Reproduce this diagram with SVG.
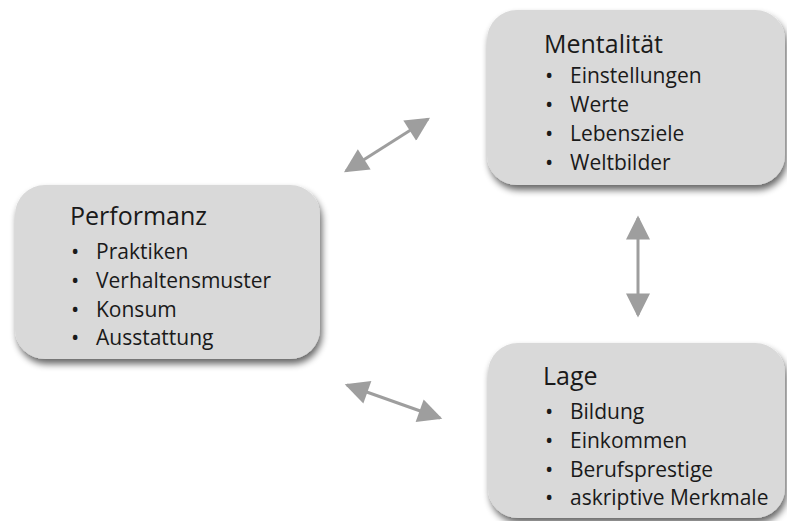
<svg xmlns="http://www.w3.org/2000/svg" width="787" height="521" viewBox="0 0 787 521">
  <defs>
    <filter id="shadow" x="-10%" y="-10%" width="125%" height="130%">
      <feGaussianBlur in="SourceAlpha" stdDeviation="3.5"/>
      <feOffset dx="2" dy="5" result="b"/>
      <feComponentTransfer><feFuncA type="linear" slope="0.6"/></feComponentTransfer>
      <feMerge><feMergeNode/><feMergeNode in="SourceGraphic"/></feMerge>
    </filter>
    <marker id="head" viewBox="0 0 10 10" refX="9" refY="5" markerWidth="8.5" markerHeight="8" markerUnits="strokeWidth" orient="auto-start-reverse">
      <path d="M0,0 L10,5 L0,10 Z" fill="#9e9e9e"/>
    </marker>
  </defs>
  <style>
    .box { fill: #d9d9d9; filter: url(#shadow); }
    .title { font-family: "Open Sans", "Liberation Sans", sans-serif; font-size: 25px; fill: #1a1a1a; }
    .item { font-family: "Open Sans", "Liberation Sans", sans-serif; font-size: 21px; fill: #1a1a1a; }
    .dot { font-family: "Open Sans", "Liberation Sans", sans-serif; font-size: 22px; fill: #1a1a1a; }
    .link { stroke: #9e9e9e; stroke-width: 3; fill: none; marker-start: url(#head); marker-end: url(#head); }
  </style>
  <rect width="787" height="521" fill="#ffffff"/>

  <g id="connectors">
    <line class="link" x1="346" y1="171" x2="428" y2="119"/>
    <line class="link" x1="347" y1="385" x2="440" y2="418"/>
    <line class="link" x1="638" y1="218" x2="638" y2="315"/>
  </g>

  <g id="performanz">
    <rect class="box" x="15" y="185" width="305" height="174" rx="30"/>
    <text class="title" x="70" y="225">Performanz</text>
    <text class="dot" x="71" y="259">•</text><text class="item" x="96" y="259">Praktiken</text>
    <text class="dot" x="71" y="288">•</text><text class="item" x="96" y="288">Verhaltensmuster</text>
    <text class="dot" x="71" y="317">•</text><text class="item" x="96" y="317">Konsum</text>
    <text class="dot" x="71" y="345">•</text><text class="item" x="96" y="345">Ausstattung</text>
  </g>

  <g id="mentalitaet">
    <rect class="box" x="487" y="10" width="298" height="175" rx="30"/>
    <text class="title" x="544" y="53">Mentalität</text>
    <text class="dot" x="545" y="83">•</text><text class="item" x="570" y="83">Einstellungen</text>
    <text class="dot" x="545" y="112">•</text><text class="item" x="570" y="112">Werte</text>
    <text class="dot" x="545" y="141">•</text><text class="item" x="570" y="141">Lebensziele</text>
    <text class="dot" x="545" y="170">•</text><text class="item" x="570" y="170">Weltbilder</text>
  </g>

  <g id="lage">
    <rect class="box" x="488" y="343" width="297" height="175" rx="30"/>
    <text class="title" x="543" y="385">Lage</text>
    <text class="dot" x="545" y="419">•</text><text class="item" x="570" y="419">Bildung</text>
    <text class="dot" x="545" y="448">•</text><text class="item" x="570" y="448">Einkommen</text>
    <text class="dot" x="545" y="477">•</text><text class="item" x="570" y="477">Berufsprestige</text>
    <text class="dot" x="545" y="505">•</text><text class="item" x="570" y="505">askriptive Merkmale</text>
  </g>
</svg>
